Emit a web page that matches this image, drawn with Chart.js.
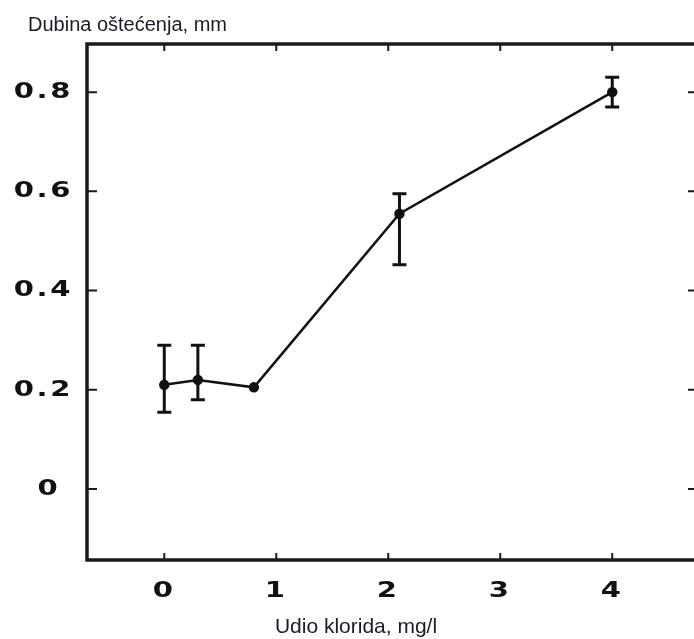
<!DOCTYPE html>
<html>
<head>
<meta charset="utf-8">
<script src="https://cdn.jsdelivr.net/npm/chart.js@4.4.1/dist/chart.umd.min.js"></script>
<style>
    html, body { margin: 0; padding: 0; background: #fff; overflow: hidden; }
    #wrap { width: 694px; height: 639px; }
</style>
</head>
<body>
<div id="wrap"><canvas id="depthChart" width="694" height="639"></canvas></div>
<script>
// Values
const chloride = [0, 0.3, 0.8, 2.1, 4.0];
const depth = [0.21, 0.22, 0.205, 0.555, 0.80];
const errLow = [0.155, 0.18, null, 0.452, 0.77];
const errHigh = [0.29, 0.29, null, 0.595, 0.83];

const xTicks = [0, 1, 2, 3, 4];
const yTicks = [0, 0.2, 0.4, 0.6, 0.8];

const yTitle = 'Dubina oštećenja, mm';
const xTitle = 'Udio klorida, mg/l';

let points = chloride.map((x, i) => ({ x: x, y: depth[i] }));

// The tick digits in the source are very wide: stretch them while the axes are drawn
const wideTicks = {
    id: 'wideTicks',
    beforeDraw(chart) {
        const ctx = chart.ctx;
        const plain = CanvasRenderingContext2D.prototype.fillText;
        ctx.letterSpacing = '2px';
        ctx.fillText = function (text, x, y, maxWidth) {
            this.save();
            this.translate(x, y);
            this.scale(1.32, 1);
            plain.call(this, text, 0, 0, maxWidth);
            this.restore();
        };
    },
    beforeDatasetsDraw(chart) {
        delete chart.ctx.fillText;
        chart.ctx.letterSpacing = '0px';
    }
};

// Error bars with caps
const errorBars = {
    id: 'errorBars',
    afterDatasetsDraw(chart) {
        const { ctx, scales: { x, y } } = chart;
        ctx.save();
        ctx.strokeStyle = '#111';
        ctx.lineWidth = 3;
        chloride.forEach((cx, i) => {
            if (errLow[i] == null) return;
            let px = x.getPixelForValue(cx);
            let top = y.getPixelForValue(errHigh[i]);
            let bot = y.getPixelForValue(errLow[i]);
            ctx.beginPath();
            ctx.moveTo(px, top); ctx.lineTo(px, bot);
            ctx.moveTo(px - 7, top); ctx.lineTo(px + 7, top);
            ctx.moveTo(px - 7, bot); ctx.lineTo(px + 7, bot);
            ctx.stroke();
        });
        ctx.restore();
    }
};

// Box frame with inward ticks on all sides, plus the two captions.
// The right side of the box lies just outside the picture, only its ticks show.
const frame = {
    id: 'frame',
    afterDraw(chart) {
        const { ctx, chartArea: a, scales: { x, y } } = chart;
        ctx.save();
        ctx.strokeStyle = '#1a1a1a';
        ctx.lineWidth = 2;
        ctx.beginPath();
        xTicks.forEach(v => {
            let px = x.getPixelForValue(v);
            ctx.moveTo(px, a.bottom); ctx.lineTo(px, a.bottom - 7);
            ctx.moveTo(px, a.top); ctx.lineTo(px, a.top + 7);
        });
        yTicks.forEach(v => {
            let py = y.getPixelForValue(v);
            ctx.moveTo(a.left, py); ctx.lineTo(a.left + 10, py);
            ctx.moveTo(a.right, py); ctx.lineTo(a.right - 6, py);
        });
        ctx.stroke();
        ctx.lineWidth = 3.5;
        ctx.strokeRect(a.left, a.top, a.right + 5 - a.left, a.bottom - a.top);

        ctx.fillStyle = '#1c1c28';
        ctx.font = '20px "Liberation Sans", Arial, sans-serif';
        ctx.textBaseline = 'alphabetic';
        ctx.textAlign = 'left';
        ctx.fillText(yTitle, 28, 31);
        ctx.font = '21px "Liberation Sans", Arial, sans-serif';
        ctx.textAlign = 'center';
        ctx.fillText(xTitle, 356, 633);
        ctx.restore();
    }
};

let depthChart = new Chart(document.getElementById('depthChart').getContext('2d'), {
    type: 'scatter',
    data: {
        datasets: [{
            data: points,
            showLine: true,
            borderColor: '#111',
            borderWidth: 2.5,
            pointRadius: 4,
            pointBackgroundColor: '#111',
            pointBorderColor: '#111',
        }]
    },
    options: {
        responsive: false,
        animation: false,
        layout: { autoPadding: false, padding: { top: 44, right: 0, left: 0, bottom: 0 } },
        plugins: { legend: { display: false }, tooltip: { enabled: false } },
        scales: {
            x: {
                type: 'linear',
                min: -0.69,
                max: 4.73,
                grid: { display: false, drawTicks: false },
                border: { display: false },
                afterBuildTicks: scale => { scale.ticks = xTicks.map(v => ({ value: v })); },
                afterFit: scale => {
                    scale.height = 79;
                    scale.paddingLeft = 0;
                    scale.paddingRight = 0;
                },
                ticks: {
                    padding: 18,
                    color: '#111',
                    font: { family: '"DejaVu Sans"', size: 22, weight: 'bold' },
                    callback: v => String(v)
                }
            },
            y: {
                type: 'linear',
                min: -0.143,
                max: 0.897,
                grid: { display: false, drawTicks: false },
                border: { display: false },
                afterBuildTicks: scale => { scale.ticks = yTicks.map(v => ({ value: v })); },
                afterFit: scale => { scale.width = 87; },
                ticks: {
                    padding: 14,
                    color: '#111',
                    font: { family: '"DejaVu Sans"', size: 22, weight: 'bold' },
                    // the source sets the lone zero a little left of the others
                    callback: v => (v === 0 ? '0 ' : v.toFixed(1))
                }
            }
        }
    },
    plugins: [wideTicks, errorBars, frame]
});
</script>
</body>
</html>
